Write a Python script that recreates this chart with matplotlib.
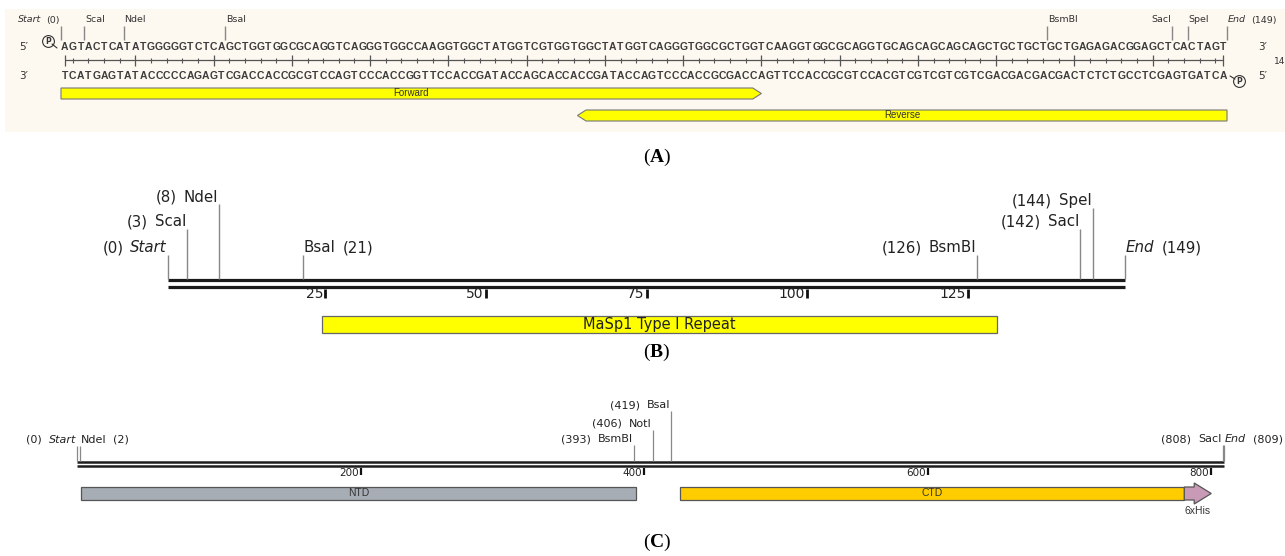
import numpy as np
import matplotlib.pyplot as plt
from matplotlib.patches import Rectangle, Polygon
from matplotlib.transforms import offset_copy

plt.rcParams['font.family'] = ['DejaVu Sans']
plt.rcParams['mathtext.fontset'] = 'custom'
plt.rcParams['mathtext.rm'] = 'Liberation Serif'
plt.rcParams['mathtext.bf'] = 'Liberation Serif:bold'

# ---- (A) insert sequence with primers ----
seq_top = ("AGTACTCATATGGGGGTCTCAGCTGGTGGCGCAGGTCAGGGTGGCCAAGG"
           "TGGCTATGGTCGTGGTGGCTATGGTCAGGGTGGCGCTGGTCAAGGTGGCG"
           "CAGGTGCAGCAGCAGCAGCTGCTGCTGCTGAGAGACGGAGCTCACTAGT")
seq_bot = ("TCATGAGTATACCCCCAGAGTCGACCACCGCGTCCAGTCCCACCGGTTCC"
           "ACCGATACCAGCACCACCGATACCAGTCCCACCGCGACCAGTTCCACCGC"
           "GTCCACGTCGTCGTCGTCGACGACGACGACTCTCTGCCTCGAGTGATCA")
seq_len = 149
ruler_major = [1, 10, 20, 30, 40, 50, 60, 70, 80, 90, 100, 110, 120, 130, 140, 149]
ruler_minor = [b for b in range(2, 149, 2) if b % 10 != 0]

site_names = ['Start', 'ScaI', 'NdeI', 'BsaI', 'BsmBI', 'SacI', 'SpeI', 'End']
site_pos = [0, 3, 8, 21, 126, 142, 144, 149]

primer_names = ['Forward', 'Reverse']
primer_from = [0, 149]
primer_to = [89.5, 66]

# ---- (B) repeat unit map ----
b_feature = 'MaSp1 Type I Repeat'
b_feature_range = (24, 129)
b_ticks = [25, 50, 75, 100, 125]

# ---- (C) full construct ----
c_len = 809
c_site_names = ['Start', 'NdeI', 'BsmBI', 'NotI', 'BsaI', 'SacI', 'End']
c_site_pos = [0, 2, 393, 406, 419, 808, 809]
c_feat_names = ['NTD', 'CTD', '6xHis']
c_feat_from = [3, 425, 781]
c_feat_to = [394, 781, 800]
c_ticks = [200, 400, 600, 800]

W, H = 1285, 556
fig = plt.figure(figsize=(W / 100, H / 100), dpi=100)
rend = fig.canvas.get_renderer()

bg = fig.add_axes([0, 0, 1, 1])
bg.set_xlim(0, W)
bg.set_ylim(H, 0)
bg.axis('off')
bg.add_patch(Rectangle((5, 9), W - 5, 123, color='#fdf8f0', lw=0))
for lab, y in zip('ABC', [157, 352, 542]):
    bg.text(657, y, r'($\mathbf{%s}$)' % lab, ha='center', va='center',
            fontsize=14, family='Liberation Serif')


def panel(x0, x1, length):
    ax = fig.add_axes([0, 0, 1, 1])
    k = (x1 - x0) / length
    ax.set_xlim(-x0 / k, (W - x0) / k)
    ax.set_ylim(H, 0)
    ax.axis('off')
    return ax


def off(ax, dx):
    return offset_copy(ax.transData, fig=fig, x=dx, y=0, units='dots')


def label(ax, x, y, pieces, side, size, gap, color='#222'):
    # pieces listed from the site line outwards
    d = 1
    for s, st in pieces:
        if side == 'right':
            t = ax.text(x, y, s, ha='right', va='center', fontsize=size, style=st,
                        color=color, transform=off(ax, -d))
        else:
            t = ax.text(x, y, s, ha='left', va='center', fontsize=size, style=st,
                        color=color, transform=off(ax, d))
        d += t.get_window_extent(rend).width + gap


def arrow(ax, a, b, top, bot, head, **kw):
    mid = (top + bot) / 2
    sgn = 1 if b > a else -1
    pts = [(a, top), (b - sgn * head, top), (b, mid), (b - sgn * head, bot), (a, bot)]
    ax.add_patch(Polygon(pts, closed=True, **kw))


# ================= panel A =================
axA = panel(61, 1227, seq_len)
for i, (t, b) in enumerate(zip(seq_top, seq_bot)):
    axA.text(i + 0.5, 47, t, ha='center', va='center', fontsize=7.5,
             family='Liberation Sans', weight='bold', color='#3c3c3c')
    axA.text(i + 0.5, 76, b, ha='center', va='center', fontsize=7.5,
             family='Liberation Sans', weight='bold', color='#3c3c3c')
axA.hlines(60, 0.5, seq_len - 0.5, color='#555', lw=0.9)
axA.vlines(np.array(ruler_major) - 0.5, 54.5, 65.5, color='#555', lw=0.9)
axA.vlines(np.array(ruler_minor) - 0.5, 57.5, 62.5, color='#555', lw=0.8)
# ruler end label, cut by the right edge as in the source
axA.text(seq_len, 62, str(seq_len), ha='left', va='center', fontsize=6.5,
         color='#333', transform=off(axA, 47), clip_on=False)

axA.vlines(site_pos, 26, 40, color='#888', lw=1)
for n, p in zip(site_names, site_pos):
    if n == 'Start':
        label(axA, p, 20, [('(%d)' % p, 'normal'), (n, 'italic')], 'right', 6.8, 5, '#333')
    elif n == 'End':
        label(axA, p, 20, [(n, 'italic'), ('(%d)' % p, 'normal')], 'left', 6.8, 5, '#333')
    elif n == 'SacI':
        label(axA, p, 20, [(n, 'normal')], 'right', 6.8, 0, '#333')
    else:
        label(axA, p, 20, [(n, 'normal')], 'left', 6.8, 0, '#333')

for y, s in [(47, "5\u2032"), (76, "3\u2032")]:
    axA.text(0, y, s, ha='center', va='center', fontsize=7.5, color='#333',
             transform=off(axA, -37))
for y, s in [(47, "3\u2032"), (76, "5\u2032")]:
    axA.text(seq_len, y, s, ha='center', va='center', fontsize=7.5, color='#333',
             transform=off(axA, 36))

# phosphate marks at 5' ends
for x, y, dx, l0, l1, ly0, ly1 in [(0, 41, -13, -9, -4, 44, 48), (seq_len, 81, 12, 3, 8, 76, 79)]:
    axA.plot([x], [y], 'o', ms=8.5, mfc='none', mec='#333', mew=0.8, transform=off(axA, dx))
    axA.text(x, y, 'P', ha='center', va='center', fontsize=5.5, weight='bold',
             color='#333', transform=off(axA, dx))
    axA.annotate('', xy=(x, ly1), xycoords=off(axA, l1), xytext=(x, ly0),
                 textcoords=off(axA, l0),
                 arrowprops=dict(arrowstyle='-', color='#333', lw=0.8, shrinkA=0, shrinkB=0))

for n, a, b, top in zip(primer_names, primer_from, primer_to, [88, 110]):
    arrow(axA, a, b, top, top + 11, 1.1, facecolor='#ffff00', edgecolor='#777', lw=0.8)
    axA.text((a + b) / 2, top + 5.5, n, ha='center', va='center', fontsize=7,
             family='Liberation Sans', color='#333')

# ================= panel B =================
axB = panel(168, 1125, seq_len)
axB.hlines([280, 287], 0, seq_len, color='#1a1a1a', lw=2.3)
axB.vlines(np.array(b_ticks) - 0.5, 289, 298, color='#111', lw=2)
for t in b_ticks:
    axB.text(t - 0.5, 294, str(t), ha='right', va='center', fontsize=10,
             color='#222', transform=off(axB, -2))

b_row = {'Start': 248, 'ScaI': 222, 'NdeI': 197, 'BsaI': 248,
         'BsmBI': 248, 'SacI': 222, 'SpeI': 201, 'End': 248}
b_side = {'Start': 'right', 'ScaI': 'right', 'NdeI': 'right', 'BsaI': 'left',
          'BsmBI': 'right', 'SacI': 'right', 'SpeI': 'right', 'End': 'left'}
for n, p in zip(site_names, site_pos):
    y = b_row[n]
    axB.vlines(p, y + 7, 279, color='#888', lw=1)
    st = 'italic' if n in ('Start', 'End') else 'normal'
    label(axB, p, y, [(n, st), ('(%d)' % p, 'normal')], b_side[n], 10.8, 7)

fa, fb = b_feature_range
axB.add_patch(Rectangle((fa, 316), fb - fa, 17, facecolor='#ffff00', edgecolor='#666', lw=0.9))
axB.text((fa + fb) / 2, 324.5, b_feature, ha='center', va='center', fontsize=10.5, color='#222')

# ================= panel C =================
axC = panel(77, 1224, c_len)
axC.hlines([462, 466], 0, c_len, color='#1e1e1e', lw=1.8)
axC.vlines(c_ticks, 468, 475, color='#111', lw=1.6)
for t in c_ticks:
    axC.text(t, 473, str(t), ha='right', va='center', fontsize=7.5,
             color='#222', transform=off(axC, -2))

c_row = {'Start': 440, 'NdeI': 440, 'BsmBI': 439, 'NotI': 424, 'BsaI': 405,
         'SacI': 439, 'End': 439}
c_side = {'Start': 'right', 'NdeI': 'left', 'BsmBI': 'right', 'NotI': 'right',
          'BsaI': 'right', 'SacI': 'right', 'End': 'left'}
for n, p in zip(c_site_names, c_site_pos):
    y = c_row[n]
    axC.vlines(p, y + 6, 461, color='#888', lw=0.9)
    st = 'italic' if n in ('Start', 'End') else 'normal'
    label(axC, p, y, [(n, st), ('(%d)' % p, 'normal')], c_side[n], 8, 7)

c_colors = ['#a7adb5', '#ffcc00', '#c99ab6']
for n, a, b, col in zip(c_feat_names, c_feat_from, c_feat_to, c_colors):
    if n == '6xHis':
        mid = 493.5
        pts = [(a, 487), (b - 12, 487), (b - 12, 483), (b, mid), (b - 12, 504),
               (b - 12, 500), (a, 500)]
        axC.add_patch(Polygon(pts, closed=True, facecolor=col, edgecolor='#555', lw=0.9))
        axC.text((a + b) / 2, 511, n, ha='center', va='center', fontsize=7.5,
                 family='Liberation Sans', color='#333')
    else:
        axC.add_patch(Rectangle((a, 487), b - a, 13, facecolor=col, edgecolor='#555', lw=0.9))
        axC.text((a + b) / 2, 493.5, n, ha='center', va='center', fontsize=7.5,
                 family='Liberation Sans', color='#333')

fig.savefig('out.png', dpi=100)
